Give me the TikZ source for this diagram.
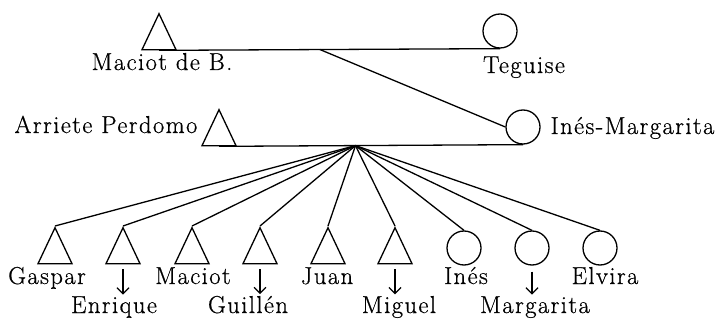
\documentclass[tikz,border=0pt]{standalone}
\usepackage{fontspec}
\setmainfont{Latin Modern Roman}[LetterSpace=6, FakeBold=0.6]
\usetikzlibrary{shapes.geometric,arrows.meta}
\begin{document}
\begin{tikzpicture}[x=1pt, y=-1pt, line width=1.3pt,
  male/.style = {isosceles triangle, isosceles triangle stretches,
    shape border rotate=90, minimum width=34pt, minimum height=36pt,
    inner sep=0pt, anchor=apex, draw},
  female/.style = {circle, minimum size=34pt, inner sep=0pt, draw},
  tag/.style = {inner sep=0pt, anchor=base,
    font=\fontsize{24.5}{28}\selectfont},
  desc/.style = {-{Straight Barb[length=6pt,width=12pt]}}]
  \useasboundingbox (0,0) rectangle (717,320);
  % parents
  \node[male] (maciotb) at (159,12) {};
  \node[female] (teguise) at (500,31) {};
  \node[male] (arriete) at (219,108) {};
  \node[female] (inesm) at (523,127) {};
  \node[tag] (maciotbl) at (162,70) {Maciot de B.};
  \node[tag] (teguisel) at (524,73) {Teguise};
  \node[tag, anchor=base east] (arrietel) at (198,133) {Arriete Perdomo};
  \node[tag, anchor=base west] (inesml) at (550,134) {Inés-Margarita};
  \draw (maciotb.south) -- (teguise.south) coordinate[pos=0.472] (m1);
  \draw (m1) -- (inesm.west);
  \draw (arriete.south) -- (inesm.south) coordinate[pos=0.449] (fan);
  % children
  \node[male] (gaspar) at (55,226) {};
  \node[male] (enrique) at (123,226) {};
  \node[male] (maciot) at (192,226) {};
  \node[male] (guillen) at (260,226) {};
  \node[male] (juan) at (328,226) {};
  \node[male] (miguel) at (395,226) {};
  \node[female] (ines) at (464,248) {};
  \node[female] (margarita) at (532,248) {};
  \node[female] (elvira) at (600,248) {};
  \foreach \c in {gaspar,enrique,maciot,guillen,juan,miguel,ines,margarita,elvira}
    \draw (fan) -- (\c.north);
  \node[tag] (gasparl) at (47,284) {Gaspar};
  \node[tag] (maciotl) at (193,284) {Maciot};
  \node[tag] (juanl) at (327,284) {Juan};
  \node[tag] (inesl) at (466,284) {Inés};
  \node[tag] (elviral) at (605,284) {Elvira};
  \node[tag] (enriquel) at (114,313) {Enrique};
  \node[tag] (guillenl) at (248,313) {Guillén};
  \node[tag] (miguell) at (399,313) {Miguel};
  \node[tag] (margarital) at (535,313) {Margarita};
  \draw[desc] ([yshift=-5pt]enrique.south) -- ([yshift=1pt]enrique.south |- enriquel.north);
  \draw[desc] ([yshift=-5pt]guillen.south) -- ([yshift=1pt]guillen.south |- guillenl.north);
  \draw[desc] ([yshift=-5pt]miguel.south) -- ([yshift=1pt]miguel.south |- miguell.north);
  \draw[desc] ([yshift=-6pt]margarita.south) -- ([yshift=1pt]margarita.south |- margarital.north);
\end{tikzpicture}
\end{document}
